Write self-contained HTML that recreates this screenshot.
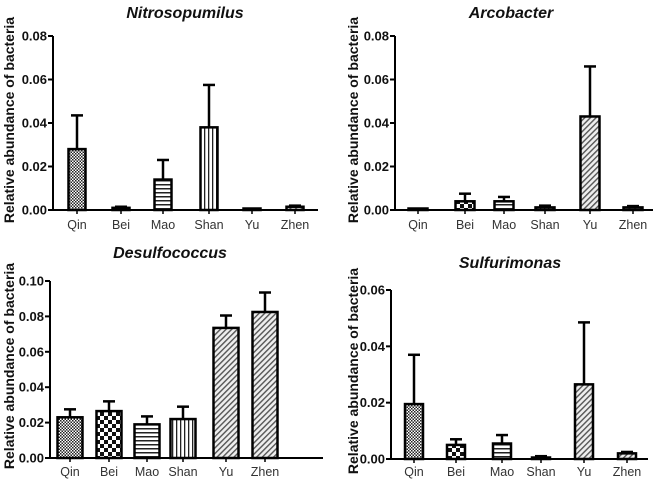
<!DOCTYPE html>
<html><head><meta charset="utf-8">
<style>
body{margin:0;background:#fff;}
svg{display:block;font-family:"Liberation Sans",Arial,sans-serif;}
.tick{font-size:13px;font-weight:bold;fill:#111;}
.cat{font-size:12.5px;fill:#333;}
.title{font-size:16px;font-weight:bold;font-style:italic;fill:#111;}
.ylab{font-size:14px;font-weight:bold;fill:#111;}
</style></head>
<body>
<svg id="chart" width="658" height="482" viewBox="0 0 658 482">
<defs>
<pattern id="p-qin" width="3" height="3" patternUnits="userSpaceOnUse"><rect width="3" height="3" fill="#fff"/><rect width="1.5" height="1.5" fill="#222"/><rect x="1.5" y="1.5" width="1.5" height="1.5" fill="#222"/></pattern>
<pattern id="p-bei" width="8" height="8" patternUnits="userSpaceOnUse"><rect width="8" height="8" fill="#fff"/><rect width="4" height="4" fill="#111"/><rect x="4" y="4" width="4" height="4" fill="#111"/></pattern>
<pattern id="p-mao" width="4" height="4" patternUnits="userSpaceOnUse"><rect width="4" height="4" fill="#fff"/><rect width="4" height="1.5" fill="#222"/></pattern>
<pattern id="p-shan" width="4" height="4" patternUnits="userSpaceOnUse"><rect width="4" height="4" fill="#fff"/><rect width="1.3" height="4" fill="#222"/></pattern>
<pattern id="p-yu" width="4" height="4" patternUnits="userSpaceOnUse" patternTransform="rotate(-45)"><rect width="4" height="4" fill="#eee"/><rect width="4" height="1.4" fill="#555"/></pattern>
<pattern id="p-zhen" width="4" height="4" patternUnits="userSpaceOnUse" patternTransform="rotate(-45)"><rect width="4" height="4" fill="#eee"/><rect width="4" height="1.4" fill="#555"/></pattern>
</defs>
</svg>
<script>
const categories = ["Qin","Bei","Mao","Shan","Yu","Zhen"];
const nitroMean = [0.028,0.001,0.014,0.038,0.0003,0.0015];
const nitroErr  = [0.0435,0.0015,0.023,0.0575,0.0005,0.002];
const arcoMean  = [0.0003,0.004,0.004,0.0012,0.043,0.0012];
const arcoErr   = [0.0005,0.0075,0.006,0.002,0.066,0.0018];
const desulMean = [0.023,0.0265,0.019,0.022,0.0735,0.0825];
const desulErr  = [0.0275,0.032,0.0235,0.029,0.0805,0.0935];
const sulfMean  = [0.0195,0.005,0.0055,0.0005,0.0265,0.002];
const sulfErr   = [0.037,0.007,0.0085,0.001,0.0485,0.0025];
const ticks08 = ["0.00","0.02","0.04","0.06","0.08"];
const ticks10 = ["0.00","0.02","0.04","0.06","0.08","0.10"];
const ticks06 = ["0.00","0.02","0.04","0.06"];

const NS="http://www.w3.org/2000/svg";
const svg=document.getElementById('chart');
function mk(tag,attrs,parent){const e=document.createElementNS(NS,tag);for(const k in attrs)e.setAttribute(k,attrs[k]);(parent||svg).appendChild(e);return e;}

const panels=[
 {key:"nitro",title:"Nitrosopumilus",mean:nitroMean,err:nitroErr,ticks:ticks08,max:0.08,ax:53,x1:318,top:36,bot:210,centers:[77,121,163,209,252,295],bw:17,tx:185,ty:18,lx:14,ly:120,catY:229},
 {key:"arco",title:"Arcobacter",mean:arcoMean,err:arcoErr,ticks:ticks08,max:0.08,ax:395,x1:653,top:36,bot:210,centers:[418,465,504,545,590,633],bw:19,tx:511,ty:18,lx:358,ly:120,catY:229},
 {key:"desul",title:"Desulfococcus",mean:desulMean,err:desulErr,ticks:ticks10,max:0.10,ax:50,x1:323,top:281,bot:458,centers:[70,109,147,183,226,265],bw:25,tx:170,ty:258,lx:14,ly:366,catY:476},
 {key:"sulf",title:"Sulfurimonas",mean:sulfMean,err:sulfErr,ticks:ticks06,max:0.06,ax:391,x1:648,top:290,bot:459,centers:[414,456,502,541,584,627],bw:18,tx:510,ty:268,lx:358,ly:371,catY:476}
];

panels.forEach(p=>{
 const g=mk('g',{});
 
 
 const yScale=v=>p.bot-(v/p.max)*(p.bot-p.top);
 const t=mk('text',{x:p.tx,y:p.ty,'text-anchor':'middle',class:'title'},g);t.textContent=p.title;
 
 
 const midY=p.ly;
 const yl=mk('text',{x:p.lx,y:midY,'text-anchor':'middle',class:'ylab',transform:`rotate(-90 ${p.lx} ${midY})`},g);
 yl.textContent="Relative abundance of bacteria";
 
 
 categories.forEach((c,i)=>{
  const cx=p.centers[i];
  const y=yScale(p.mean[i]);const ye=yScale(p.err[i]);
  const el=mk('line',{x1:cx,x2:cx,y1:y,y2:ye,stroke:'#000','stroke-width':2.5},g);
  
  
  const cap=mk('line',{x1:cx-6,x2:cx+6,y1:ye,y2:ye,stroke:'#000','stroke-width':2.5},g);
  
  
  const h=Math.max(p.bot-y,1.5);
  const r=mk('rect',{x:cx-p.bw/2,y:p.bot-h,width:p.bw,height:h,fill:'url(#p-'+c.toLowerCase()+')',stroke:'#000','stroke-width':2.5},g);
  
  
  const lb=mk('text',{x:cx,y:p.catY,'text-anchor':'middle',class:'cat'},g);lb.textContent=c;
  
  
 });
 const ya=mk('line',{x1:p.ax,x2:p.ax,y1:p.top,y2:p.bot,stroke:'#000','stroke-width':2},g);
 
 
 const xa=mk('line',{x1:p.ax,x2:p.x1,y1:p.bot,y2:p.bot,stroke:'#000','stroke-width':2},g);
 
 
 p.ticks.forEach(tk=>{
  const y=yScale(parseFloat(tk));
  const tl=mk('line',{x1:p.ax-5,x2:p.ax,y1:y,y2:y,stroke:'#000','stroke-width':2},g);
  
  
  const tt=mk('text',{x:p.ax-6,y:y+4.5,'text-anchor':'end',class:'tick'},g);tt.textContent=tk;
  
  
 });
 p.centers.forEach(cx=>{
  const xt=mk('line',{x1:cx,x2:cx,y1:p.bot,y2:p.bot+4,stroke:'#000','stroke-width':1.5},g);
  
  
 });
});
</script>
</body></html>
